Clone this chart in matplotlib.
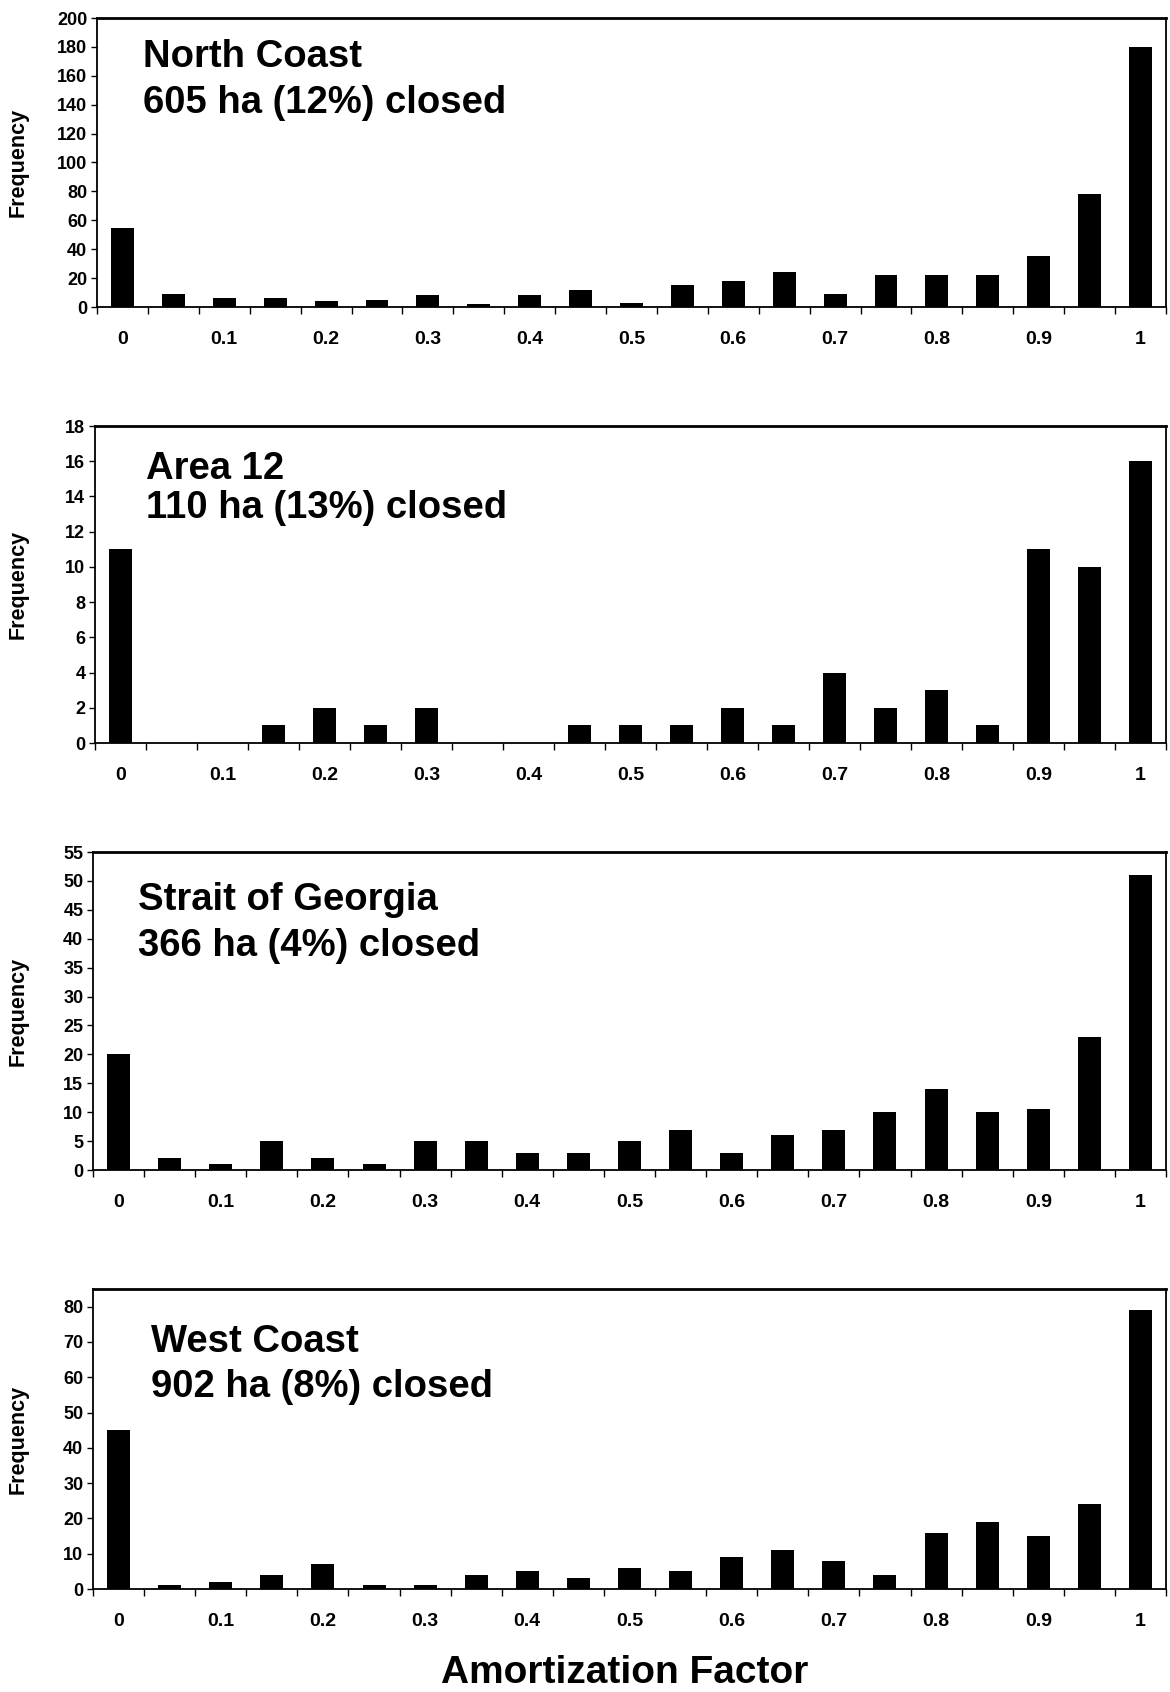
import matplotlib
matplotlib.use("Agg")
import matplotlib.pyplot as plt
from matplotlib import font_manager as fm
import numpy as np

# ---------------- data ----------------
bins = [0, 0.05, 0.1, 0.15, 0.2, 0.25, 0.3, 0.35, 0.4, 0.45, 0.5,
        0.55, 0.6, 0.65, 0.7, 0.75, 0.8, 0.85, 0.9, 0.95, 1]
tick_labels = ["0", "0.1", "0.2", "0.3", "0.4", "0.5", "0.6", "0.7", "0.8", "0.9", "1"]

north_coast = [55, 9, 6, 6, 4, 5, 8, 2, 8, 12, 3, 15, 18, 24, 9, 22, 22, 22, 35, 78, 180]
area_12 = [11, 0, 0, 1, 2, 1, 2, 0, 0, 1, 1, 1, 2, 1, 4, 2, 3, 1, 11, 10, 16]
strait_georgia = [20, 2, 1, 5, 2, 1, 5, 5, 3, 3, 5, 7, 3, 6, 7, 10, 14, 10, 10.5, 23, 51]
west_coast = [45, 1, 2, 4, 7, 1, 1, 4, 5, 3, 6, 5, 9, 11, 8, 4, 16, 19, 15, 24, 79]

titles = ["North Coast", "Area 12", "Strait of Georgia", "West Coast"]
subtitles = ["605 ha (12%) closed", "110 ha (13%) closed",
             "366 ha (4%) closed", "902 ha (8%) closed"]
series = [north_coast, area_12, strait_georgia, west_coast]
ylims = [200, 18, 55, 85]
ysteps = [20, 2, 5, 10]
ymaxtick = [200, 18, 55, 80]

# ---------------- style ----------------
names = {f.name for f in fm.fontManager.ttflist}
narrow = "Liberation Sans Narrow" if "Liberation Sans Narrow" in names else "Liberation Sans"

W, H = 1170, 1692
fig = plt.figure(figsize=(W / 100, H / 100), dpi=100)

# axes boxes in pixels: left, right, top, bottom
boxes = [(97, 1166, 18, 307), (95, 1166, 426, 743), (93, 1166, 852, 1170), (93, 1166, 1289, 1589)]
text_pos = [(143, 67, 113), (146, 479, 518), (138, 910, 956), (151, 1352, 1397)]

x = np.arange(len(bins))
for i in range(4):
    l, r, t, b = boxes[i]
    ax = fig.add_axes([l / W, 1 - b / H, (r - l) / W, (b - t) / H])
    ax.bar(x, series[i], width=0.45, color="black")
    ax.set_xlim(-0.5, len(bins) - 0.5)
    ax.set_ylim(0, ylims[i])
    ax.set_yticks(np.arange(0, ymaxtick[i] + 0.1, ysteps[i]))
    ax.set_xticks(x[::2])
    ax.set_xticklabels(tick_labels)
    ax.set_xticks(np.arange(-0.5, len(bins), 1), minor=True)
    ax.tick_params(axis="x", which="major", length=0, pad=17)
    ax.tick_params(axis="x", which="minor", length=5, width=1, direction="out")
    ax.tick_params(axis="y", length=4, width=1, direction="out", pad=3)
    for lab in ax.get_xticklabels():
        lab.set_fontfamily(narrow)
        lab.set_fontweight("bold")
        lab.set_fontsize(14)
    for lab in ax.get_yticklabels():
        lab.set_fontfamily(narrow)
        lab.set_fontweight("bold")
        lab.set_fontsize(13)
    for s in ax.spines.values():
        s.set_linewidth(1.3)
    ax.spines["top"].set_linewidth(2.0)

    tx, b1, b2 = text_pos[i]
    fig.text(tx / W, 1 - b1 / H, titles[i], fontsize=27.5, fontweight="bold",
             family=narrow, va="baseline", ha="left")
    fig.text(tx / W, 1 - b2 / H, subtitles[i], fontsize=27.5, fontweight="bold",
             family=narrow, va="baseline", ha="left")
    fig.text(18 / W, 1 - (t + b) / 2 / H, "Frequency", rotation=90, fontsize=15.5,
             fontweight="bold", family="Liberation Sans", ha="center", va="center")

fig.text(625 / W, 1 - 1673 / H, "Amortization Factor", fontsize=28, fontweight="bold",
         family="Liberation Sans", ha="center", va="center")

fig.savefig("out.png", dpi=100)
